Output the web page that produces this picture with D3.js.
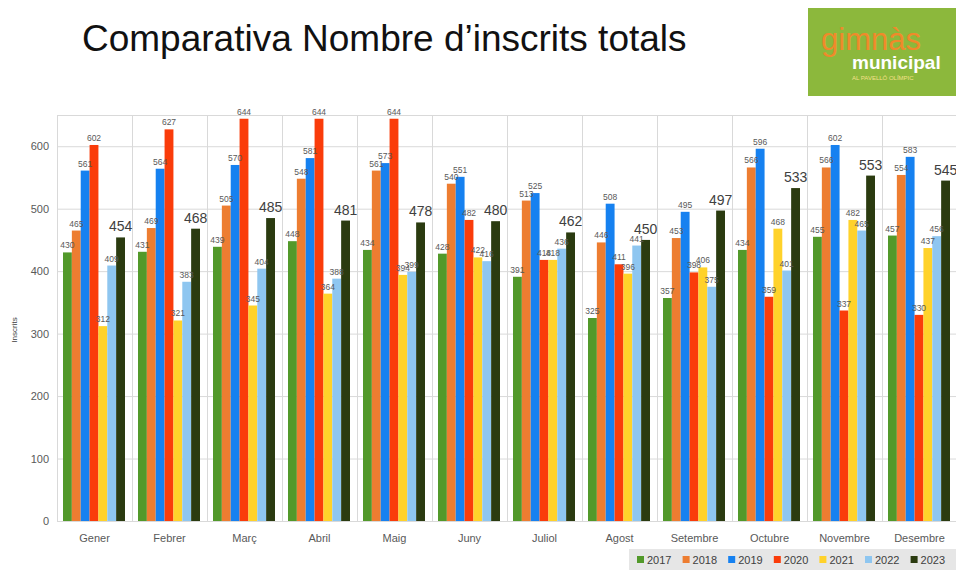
<!DOCTYPE html>
<html>
<head>
<meta charset="utf-8">
<script src="https://cdn.jsdelivr.net/npm/d3@7"></script>
<style>
  body { margin: 0; background: #fff; overflow: hidden; }
  text { font-family: "Liberation Sans", Arial, sans-serif; }
</style>
</head>
<body>
<script>
// Chart data
var months = ["Gener", "Febrer", "Març", "Abril", "Maig", "Juny", "Juliol", "Agost", "Setembre", "Octubre", "Novembre", "Desembre"];
var years = ["2017", "2018", "2019", "2020", "2021", "2022", "2023"];
var v2017 = [430, 431, 439, 448, 434, 428, 391, 325, 357, 434, 455, 457];
var v2018 = [465, 469, 505, 548, 561, 540, 513, 446, 453, 566, 566, 554];
var v2019 = [561, 564, 570, 581, 573, 551, 525, 508, 495, 596, 602, 583];
var v2020 = [602, 627, 644, 644, 644, 482, 418, 411, 398, 359, 337, 330];
var v2021 = [312, 321, 345, 364, 394, 422, 418, 396, 406, 468, 482, 437];
var v2022 = [409, 383, 404, 388, 399, 416, 436, 441, 375, 401, 465, 456];
var v2023 = [454, 468, 485, 481, 478, 480, 462, 450, 497, 533, 553, 545];
var yTicks = [0, 100, 200, 300, 400, 500, 600];

var series = [v2017, v2018, v2019, v2020, v2021, v2022, v2023];
var colors = ["#52992a", "#ed7d31", "#1681f0", "#fa3c0a", "#ffd22a", "#8ec6f0", "#2b3b10"];

var svgWidth = 956, svgHeight = 570;
var plot = { left: 57, right: 957, top: 115, bottom: 521 };

var svg = d3.select("body").append("svg")
  .attr("width", svgWidth)
  .attr("height", svgHeight);

// Title
svg.append("text")
  .attr("x", 82).attr("y", 51)
  .attr("font-size", 37)
  .attr("fill", "#111")
  .text("Comparativa Nombre d\u2019inscrits totals");

// Logo box
var logo = svg.append("g");
logo.append("rect").attr("x", 808).attr("y", 8).attr("width", 160).attr("height", 88).attr("fill", "#8cb83c");
logo.append("text").attr("x", 821).attr("y", 50).attr("font-size", 31)
  .attr("font-family", "DejaVu Serif, serif").attr("fill", "#f08a2a").text("gimnàs");
logo.append("text").attr("x", 852).attr("y", 69).attr("font-size", 19).attr("font-weight", "bold")
  .attr("fill", "#fff").text("municipal");
logo.append("text").attr("x", 852).attr("y", 80).attr("font-size", 6)
  .attr("fill", "#f5e08a").text("AL PAVELLÓ OLÍMPIC");

// Scales
var x0 = d3.scaleBand().domain(months).range([plot.left, plot.right]);
var x1 = d3.scaleBand().domain(years).range([6, x0.bandwidth() - 7]);
var y = d3.scaleLinear().domain([0, 650]).range([plot.bottom, plot.top]);

// Grid
svg.append("g").selectAll("line.h")
  .data(yTicks.concat([650]))
  .enter().append("line")
  .attr("x1", plot.left).attr("x2", plot.right)
  .attr("y1", d => y(d) + 0.5).attr("y2", d => y(d) + 0.5)
  .attr("stroke", "#d9d9d9");
svg.append("g").selectAll("line.v")
  .data(months)
  .enter().append("line")
  .attr("x1", d => x0(d) + 0.5).attr("x2", d => x0(d) + 0.5)
  .attr("y1", plot.top).attr("y2", plot.bottom)
  .attr("stroke", "#d9d9d9");

// Y axis
var yAxis = d3.axisLeft(y).tickValues(yTicks).tickSize(0).tickPadding(8);
var yg = svg.append("g").attr("transform", `translate(${plot.left}, 0)`).call(yAxis);
yg.select(".domain").remove();
yg.selectAll("text").attr("font-size", 11).attr("fill", "#595959")
  .attr("font-family", "Liberation Sans, Arial, sans-serif");

svg.append("text")
  .attr("transform", "translate(17, 330) rotate(-90)")
  .attr("text-anchor", "middle")
  .attr("font-size", 8).attr("fill", "#404040")
  .text("Inscrits");

// X axis
var xAxis = d3.axisBottom(x0).tickSize(0).tickPadding(13);
var xg = svg.append("g").attr("transform", `translate(0, ${plot.bottom})`).call(xAxis);
xg.select(".domain").attr("stroke", "#d9d9d9");
xg.selectAll("text").attr("font-size", 11).attr("fill", "#595959")
  .attr("font-family", "Liberation Sans, Arial, sans-serif");

// Bars
var groups = svg.append("g").selectAll("g")
  .data(months)
  .enter().append("g")
  .attr("transform", d => `translate(${x0(d)}, 0)`);

groups.selectAll("rect")
  .data((m, i) => years.map((yr, k) => ({ year: yr, k: k, value: series[k][i] })))
  .enter().append("rect")
  .attr("x", d => x1(d.year))
  .attr("y", d => y(d.value))
  .attr("width", x1.bandwidth())
  .attr("height", d => plot.bottom - y(d.value))
  .attr("fill", d => colors[d.k]);

// Value labels
groups.selectAll("text")
  .data((m, i) => years.map((yr, k) => ({ year: yr, k: k, value: series[k][i] })))
  .enter().append("text")
  .attr("x", d => x1(d.year) + x1.bandwidth() / 2)
  .attr("y", d => y(d.value) - (d.k === 6 ? 6 : 4))
  .attr("text-anchor", "middle")
  .attr("font-size", d => d.k === 6 ? 14 : 8.5)
  .attr("fill", d => d.k === 6 ? "#404040" : "#595959")
  .text(d => d.value);

// Legend
var legend = svg.append("g");
legend.append("rect").attr("x", 629).attr("y", 549).attr("width", 330).attr("height", 21).attr("fill", "#e6e6e6");
var li = legend.selectAll("g")
  .data(years)
  .enter().append("g")
  .attr("transform", (d, i) => `translate(${637 + i * 45.6}, 560)`);
li.append("rect").attr("x", 0).attr("y", -4).attr("width", 7).attr("height", 7).attr("fill", (d, i) => colors[i]);
li.append("text").attr("x", 10).attr("y", 4).attr("font-size", 11).attr("fill", "#404040").text(d => d);
</script>
</body>
</html>
